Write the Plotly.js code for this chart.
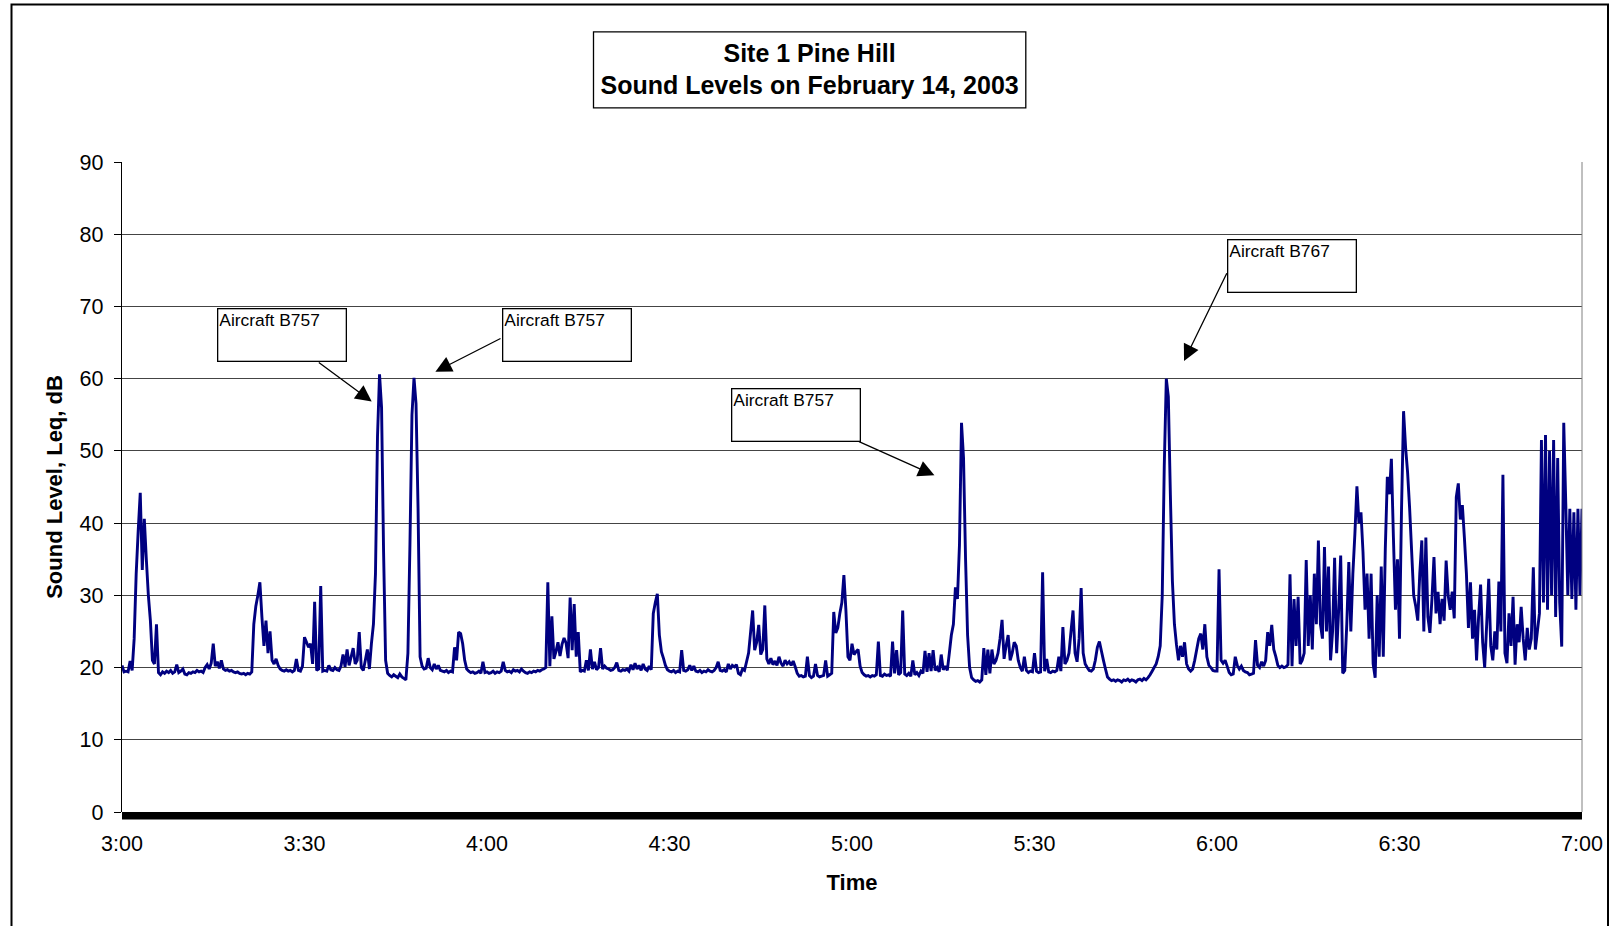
<!DOCTYPE html>
<html>
<head>
<meta charset="utf-8">
<script src="https://cdn.plot.ly/plotly-3.0.1.min.js"></script>
<style>
  html, body { margin: 0; padding: 0; background: #fff; }
  #chart { width: 1610px; height: 926px; }
</style>
</head>
<body>
<div id="chart"></div>
<script>
// Leq readings every 20 seconds, one array per half hour (3:00 to 7:00)
const lev0300 = [
  20.3, 19.4, 19.5, 19.4, 20.9, 19.6, 24.0, 33.0, 39.0, 44.2, 33.5, 40.6, 35.0, 30.0, 26.5,
  21.0, 20.5, 26.0, 19.3, 19.0, 19.4, 19.2, 19.5, 19.3, 19.6, 19.2, 19.4, 20.4, 19.3, 19.5,
  19.8, 19.1, 19.0, 19.3, 19.2, 19.4, 19.3, 19.6, 19.4, 19.5, 19.3, 20.0, 20.4, 19.8, 20.6,
  23.3, 20.2, 20.8, 19.9, 21.0, 19.8, 19.6, 19.7, 19.5, 19.6, 19.4, 19.3, 19.4, 19.2, 19.1,
  19.2, 19.0, 19.2, 19.1, 19.4, 26.0, 28.5, 30.0, 31.8, 27.0, 23.0, 26.5, 22.0, 25.0, 21.0,
  20.5, 21.2, 20.3, 19.8, 19.6, 19.5, 19.7, 19.5, 19.6, 19.4, 19.6, 21.2, 19.6, 19.5, 20.2
];
const lev0330 = [
  24.2, 23.5, 22.8, 23.3, 20.5, 29.1, 19.6, 19.8, 31.3, 19.5, 19.6, 19.5, 20.3, 19.7, 19.6,
  20.0, 19.7, 19.6, 20.2, 21.8, 20.1, 22.5, 20.3, 21.5, 22.7, 20.5, 21.0, 24.9, 20.0, 19.6,
  21.0, 22.5, 19.8, 23.3, 26.0, 33.0, 52.0, 60.6, 56.0, 36.0, 21.0, 19.2, 18.9, 18.7, 19.0,
  18.8, 18.6, 19.1, 18.7, 18.5, 18.3, 22.0, 37.0, 55.0, 60.1, 56.5, 42.0, 21.5, 20.2, 19.8,
  19.9, 21.3, 20.0, 19.7, 20.5, 19.8, 20.3, 19.6, 19.5, 19.4, 19.6, 19.3, 19.5, 19.4, 22.8,
  21.0, 24.9, 24.7, 23.3, 21.0, 19.8, 19.5, 19.3, 19.4, 19.2, 19.3, 19.5, 19.2, 20.8, 19.3
];
const lev0400 = [
  19.4, 19.2, 19.3, 19.5, 19.2, 19.4, 19.3, 19.5, 20.8, 19.6, 19.4, 19.5, 19.3, 19.7, 19.5,
  19.6, 19.4, 19.8, 19.5, 19.3, 19.2, 19.4, 19.3, 19.5, 19.4, 19.6, 19.5, 19.7, 19.8, 20.0,
  31.8, 20.2, 27.1, 21.2, 22.2, 23.5, 21.6, 23.2, 24.1, 23.4, 21.3, 29.7, 22.4, 28.8, 21.5,
  24.9, 19.4, 19.6, 19.5, 21.0, 19.6, 22.5, 19.8, 20.8, 19.7, 20.0, 22.7, 19.8, 20.2, 19.9,
  19.8, 19.6, 19.7, 20.0, 20.7, 19.6, 19.5, 19.7, 19.6, 19.8, 19.5, 20.4, 19.7, 20.6, 19.8,
  20.3, 19.6, 20.5, 19.8, 19.6, 20.2, 19.7, 27.5, 29.0, 30.2, 24.5, 22.2, 21.3, 20.3, 19.7
];
const lev0430 = [
  19.5, 19.4, 19.6, 19.3, 19.5, 19.4, 22.4, 19.6, 19.5, 19.7, 20.3, 19.6, 20.2, 19.5, 19.4,
  19.6, 19.3, 19.5, 19.4, 19.7, 19.5, 19.4, 19.6, 20.0, 20.8, 19.6, 19.5, 19.7, 19.4, 20.5,
  19.8, 20.3, 20.1, 20.4, 19.2, 19.0, 19.8, 19.6, 20.8, 22.0, 24.9, 27.9, 22.4, 23.5, 25.9,
  21.8, 22.5, 28.6, 21.2, 20.5, 21.3, 20.4, 20.9, 20.3, 21.5, 20.6, 20.2, 21.0, 20.5, 20.8,
  20.3, 20.9, 20.1, 19.2, 18.8, 18.9, 18.7, 18.8, 21.5, 18.9, 18.6, 18.8, 20.5, 18.9, 18.7,
  18.8, 18.9, 21.0, 18.8, 19.0, 19.2, 27.7, 24.8, 25.5, 27.5, 29.0, 32.8, 27.9, 21.5, 21.0
];
const lev0500 = [
  23.3, 21.8, 22.2, 22.5, 20.2, 19.3, 19.0, 18.8, 18.9, 18.7, 18.9, 18.8, 19.0, 23.6, 18.9,
  18.8, 19.1, 18.9, 19.0, 18.8, 23.6, 19.2, 22.4, 19.0, 19.3, 27.9, 19.1, 18.9, 19.2, 18.8,
  21.0, 19.0, 19.3, 18.9, 19.5, 19.2, 22.3, 19.4, 22.0, 19.5, 22.4, 19.6, 20.0, 19.4, 21.8,
  19.7, 20.2, 19.6, 22.0, 24.5, 26.0, 31.1, 29.5, 37.0, 53.9, 49.0, 35.0, 24.5, 20.0, 18.6,
  18.3, 18.1, 18.2, 18.0, 18.3, 22.7, 19.0, 22.5, 19.2, 22.5, 20.5, 21.0, 22.0, 24.0, 26.6,
  21.2, 23.0, 24.5, 21.0, 22.0, 23.5, 23.0, 21.0, 20.0, 19.5, 21.5, 19.6, 19.3, 19.5, 19.4
];
const lev0530 = [
  22.0, 19.5, 19.3, 19.4, 33.2, 19.5, 21.2, 19.4, 19.3, 19.5, 19.4, 19.6, 21.5, 19.5, 25.6,
  20.5, 21.0, 22.0, 25.0, 27.9, 22.0, 20.8, 24.0, 31.0, 22.0, 20.5, 20.0, 19.6, 19.5, 19.8,
  21.0, 22.8, 23.6, 22.3, 21.0, 19.8, 18.7, 18.4, 18.2, 18.3, 18.1, 18.3, 18.2, 18.0, 18.3,
  18.2, 18.4, 18.1, 18.3, 18.2, 18.0, 18.3, 18.4, 18.2, 18.5, 18.3, 18.6, 19.0, 19.5, 20.0,
  20.5, 21.5, 23.0, 30.0, 48.0, 60.0, 57.5, 44.0, 32.0, 26.0, 23.2, 21.0, 23.0, 21.5, 23.5,
  20.5, 19.8, 19.5, 19.8, 21.0, 22.5, 24.0, 24.7, 22.5, 26.0, 21.5, 20.3, 20.0, 19.6, 19.5
];
const lev0600 = [
  19.5, 33.6, 21.0, 20.6, 21.0, 20.2, 19.3, 19.0, 19.1, 21.5, 20.3, 19.8, 20.2, 19.6, 19.4,
  19.3, 19.0, 19.1, 19.2, 23.8, 20.3, 20.0, 20.8, 20.2, 21.0, 24.9, 23.0, 25.9, 22.5, 21.5,
  20.3, 20.0, 20.2, 20.0, 20.1, 20.4, 32.9, 20.2, 29.5, 23.0, 29.8, 20.5, 21.0, 22.0, 34.9,
  23.0, 30.0, 22.5, 33.0, 26.0, 37.6, 26.0, 24.0, 36.7, 25.0, 34.0, 21.0, 25.0, 35.2, 22.0,
  28.0, 35.5, 19.2, 19.6, 26.0, 34.6, 25.0, 33.0, 38.5, 45.1, 40.0, 41.5, 36.0, 28.0, 33.0,
  24.0, 33.0, 20.5, 18.6, 30.0, 21.5, 34.0, 21.5, 36.5, 46.4, 44.0, 48.9, 38.0, 28.0, 35.0
];
const lev0630 = [
  24.0, 42.0, 55.5, 50.5, 47.0, 42.0, 36.0, 30.0, 28.5, 26.5, 33.0, 37.6, 25.0, 38.0, 27.0,
  24.8, 29.5, 35.3, 27.5, 30.5, 26.0, 29.5, 26.5, 34.8, 30.0, 28.0, 30.5, 26.8, 43.6, 45.5,
  40.5, 42.5, 38.0, 33.0, 25.5, 31.8, 24.0, 28.0, 21.0, 27.0, 31.5, 23.5, 20.0, 26.0, 32.3,
  23.0, 21.0, 25.0, 22.5, 31.9, 25.0, 46.7, 22.0, 20.6, 27.5, 23.0, 29.8, 20.4, 26.0, 23.5,
  28.4, 24.0, 21.0, 25.5, 22.5, 24.0, 33.9, 22.5, 25.0, 27.5, 51.5, 29.0, 52.2, 28.0, 50.0,
  30.0, 51.5, 27.0, 49.0, 29.0, 22.9, 53.9, 42.7, 30.0, 42.0, 29.5, 41.5, 28.0, 42.0, 30.0,
  42.0
];

const tickMinutes = [0, 30, 60, 90, 120, 150, 180, 210, 240];
const tickLabels = ['3:00', '3:30', '4:00', '4:30', '5:00', '5:30', '6:00', '6:30', '7:00'];

// Event callouts: label and the point each arrow aims at (minutes after 3:00, dB)
const calloutText = ['Aircraft B757', 'Aircraft B757', 'Aircraft B757', 'Aircraft B767'];
const arrowTipMin = [41.05, 51.52, 133.55, 174.58];
const arrowTipDb = [56.84, 60.97, 46.61, 62.45];

const levels = [].concat(lev0300, lev0330, lev0400, lev0430, lev0500, lev0530, lev0600, lev0630);
const minutes = levels.map((_, i) => i * 20 / 60);

const W = 1610, H = 926;
const M = { l: 122, r: 28, t: 162, b: 114 };
const PW = W - M.l - M.r, PH = H - M.t - M.b;
const px = x => (x - M.l) / PW;          // page x -> paper x
const py = y => (H - M.b - y) / PH;      // page y -> paper y

// callout box corners (page px) and arrow tail offsets from the tip (px)
const boxLeft = [216.7, 502.1, 731.4, 1227.3];
const boxTop = [308, 308, 388.2, 239];
const tailDx = [-54.4, 66.6, -76.9, 43.5];
const tailDy = [-40.1, -33.9, -34.4, -89.2];

const font = 'Liberation Sans, Arial, Helvetica, sans-serif';

const annotations = [];
calloutText.forEach((t, k) => {
  annotations.push({
    xref: 'paper', yref: 'paper', x: px(boxLeft[k]), y: py(boxTop[k]),
    xanchor: 'left', yanchor: 'top', text: t, showarrow: false,
    align: 'left', valign: 'top', width: 125, height: 49,
    bordercolor: '#000', borderwidth: 1.3, borderpad: 1, bgcolor: '#fff',
    font: { family: font, size: 17.4, color: '#000' }
  });
  annotations.push({
    xref: 'x', yref: 'y', x: arrowTipMin[k], y: arrowTipDb[k], text: '',
    showarrow: true, ax: tailDx[k], ay: tailDy[k],
    arrowhead: 2, arrowsize: 2.5, arrowwidth: 1.3, arrowcolor: '#000', standoff: 0
  });
});

const shapes = [
  // outer chart frame
  { type: 'rect', xref: 'paper', yref: 'paper', x0: px(11.5), x1: px(1608), y0: py(960), y1: py(4.5),
    line: { color: '#000', width: 2 }, fillcolor: 'rgba(0,0,0,0)', layer: 'below' },
  // title frame
  { type: 'rect', xref: 'paper', yref: 'paper', x0: px(593.5), x1: px(1025.8), y0: py(107.8), y1: py(31.8),
    line: { color: '#000', width: 1.3 }, fillcolor: '#fff', layer: 'below' },
  // right edge of plot area
  { type: 'line', xref: 'paper', yref: 'paper', x0: 1, x1: 1, y0: 0, y1: 1,
    line: { color: '#808080', width: 1 } },
  // heavy baseline under the time axis
  { type: 'rect', xref: 'paper', yref: 'paper', x0: 0, x1: 1, y0: -7.5 / PH, y1: 0,
    line: { width: 0 }, fillcolor: '#000' }
];

const trace = {
  type: 'scatter', mode: 'lines', x: minutes, y: levels,
  line: { color: '#000080', width: 2.9, simplify: false },
  hoverinfo: 'skip', showlegend: false
};

const layout = {
  width: W, height: H,
  margin: { l: M.l, r: M.r, t: M.t, b: M.b, pad: 0 },
  paper_bgcolor: '#fff', plot_bgcolor: '#fff',
  font: { family: font, color: '#000' },
  showlegend: false,
  title: {
    text: 'Site 1 Pine Hill<br>Sound Levels on February 14, 2003',
    font: { family: font, size: 25, weight: 'bold', color: '#000' },
    xref: 'container', yref: 'container', x: 809.6 / W, xanchor: 'center',
    y: 1 - 61.5 / H, yanchor: 'middle'
  },
  xaxis: {
    range: [0, 240], tickmode: 'array', tickvals: tickMinutes, ticktext: tickLabels,
    showgrid: false, zeroline: false, showline: false, ticks: '',
    ticklabelstandoff: 16,
    tickfont: { family: font, size: 21.5, color: '#000' },
    title: { text: 'Time', font: { family: font, size: 22, weight: 'bold', color: '#000' }, standoff: 20 },
    automargin: false, fixedrange: true
  },
  yaxis: {
    range: [0, 90], tick0: 0, dtick: 10,
    showgrid: true, gridcolor: '#444', gridwidth: 1, zeroline: false,
    showline: true, linecolor: '#000', linewidth: 1.3,
    ticks: 'outside', ticklen: 7, tickcolor: '#000', tickwidth: 1,
    ticklabelstandoff: 6,
    tickfont: { family: font, size: 21.5, color: '#000' },
    title: { text: 'Sound Level, Leq, dB', font: { family: font, size: 22, weight: 'bold', color: '#000' }, standoff: 10 },
    automargin: false, fixedrange: true
  },
  shapes: shapes,
  annotations: annotations
};

Plotly.newPlot('chart', [trace], layout, { staticPlot: true, displayModeBar: false });
</script>
</body>
</html>
